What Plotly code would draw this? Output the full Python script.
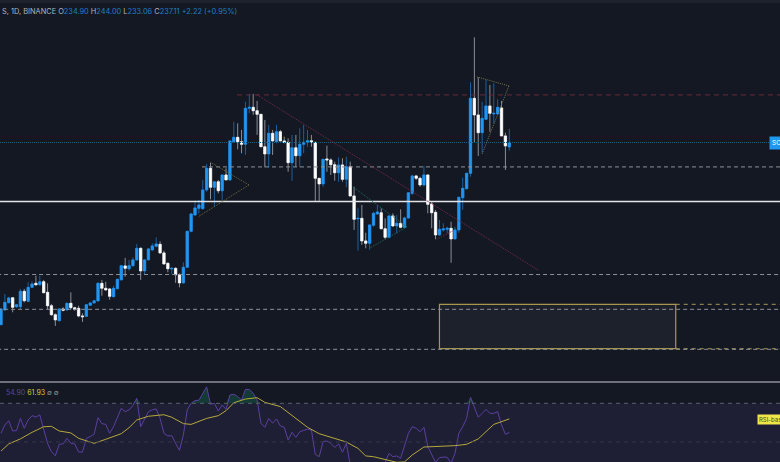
import numpy as np
import plotly.graph_objects as go

opens = [146.0,153.4,157.0,159.5,155.0,155.0,162.7,157.7,164.7,166.7,
166.0,167.5,162.2,155.5,151.0,148.0,153.9,153.4,156.7,154.5,
154.2,150.4,150.2,155.7,156.9,157.9,166.7,164.2,163.9,160.0,
164.0,168.5,175.4,174.0,175.5,178.4,184.2,172.9,178.5,183.4,
185.2,186.2,181.9,176.7,173.9,174.2,171.0,166.9,174.7,192.7,
200.9,204.2,204.0,213.4,224.2,214.7,217.5,213.0,220.9,218.4,
237.5,239.7,237.5,236.2,254.2,254.7,253.0,251.2,235.0,231.4,
241.7,237.5,242.5,237.9,237.2,227.0,234.5,230.5,236.2,237.2,
238.0,237.2,219.2,216.4,228.9,228.4,226.0,222.0,225.9,218.7,
225.0,210.4,198.9,199.2,187.9,186.7,195.7,201.4,202.0,194.0,
189.7,200.4,195.4,196.7,194.7,199.4,211.7,220.4,219.2,215.9,
220.9,206.4,202.2,190.9,193.4,193.7,194.2,188.9,193.4,209.5,
214.0,221.7,259.2,250.9,242.0,248.7,255.4,251.4,251.4,254.4,
240.4,234.90]
closes = [153.9,157.2,159.4,154.7,156.0,162.7,158.0,164.7,166.4,166.0,
167.5,162.0,155.5,151.0,148.4,153.9,153.2,156.7,154.5,153.7,
150.4,150.0,156.0,156.9,158.0,166.7,164.2,163.4,160.2,164.2,
168.7,175.5,174.2,175.5,178.4,184.2,172.9,178.4,183.9,185.4,
186.4,181.9,176.4,174.0,174.2,171.0,166.9,174.7,192.7,201.4,
204.4,205.9,213.4,224.2,214.7,217.5,213.0,220.9,218.4,237.9,
239.7,237.5,236.2,254.2,254.7,253.0,251.2,235.0,231.4,241.7,
237.9,242.5,237.9,237.2,227.0,234.5,230.5,236.2,237.2,238.0,
237.2,219.2,216.4,228.7,228.4,226.0,222.0,225.9,218.7,225.0,
210.4,198.7,199.2,187.9,186.7,195.9,201.7,202.4,194.0,189.7,
200.4,195.4,196.7,194.7,199.4,212.0,220.4,219.2,215.9,220.9,
206.2,202.0,190.9,193.7,193.9,194.2,188.9,193.4,209.7,214.2,
221.7,259.2,250.9,242.0,249.2,255.4,251.7,251.7,254.7,240.4,
235.4,237.11]
highs = [154.4,161.4,160.0,159.5,156.4,163.9,163.9,167.2,167.7,170.5,
170.5,168.4,166.7,156.4,151.7,154.4,154.7,157.0,162.2,155.0,
155.5,151.7,156.4,157.2,158.4,167.2,168.4,167.5,164.2,165.5,
169.0,175.9,179.4,178.4,179.7,186.4,184.7,178.9,184.4,186.7,
189.7,187.7,183.0,177.2,174.7,174.7,171.7,177.2,193.0,202.0,
208.0,208.4,218.4,226.4,227.0,217.5,218.4,220.9,224.2,237.9,
247.5,246.7,243.4,257.5,261.4,261.4,257.9,251.2,248.4,245.9,
243.4,245.9,243.4,240.0,239.2,240.9,240.9,244.2,245.9,243.4,
240.9,237.2,219.2,228.7,235.5,229.2,227.5,229.7,229.2,230.0,
227.5,215.0,204.2,205.9,192.0,195.9,202.5,205.9,204.2,199.2,
200.9,201.7,200.9,203.7,200.0,212.0,220.9,220.9,220.0,225.4,
220.9,207.5,203.4,198.4,196.7,195.0,197.5,195.0,210.0,219.5,
222.0,267.2,289.7,269.7,257.5,268.4,265.9,266.7,258.7,257.9,
242.0,244.00]
lows = [146.0,153.0,156.7,152.2,154.4,153.9,157.2,157.2,164.4,165.5,
165.5,162.0,153.9,150.5,145.4,147.7,152.7,153.0,153.9,153.0,
149.7,147.4,150.0,155.4,156.5,157.7,160.5,163.0,158.5,159.7,
163.9,168.0,170.0,173.0,175.0,178.0,168.4,171.0,178.0,183.0,
184.7,181.4,176.0,172.2,171.4,166.9,164.7,166.7,174.4,192.2,
200.5,201.7,203.7,212.5,208.7,205.4,211.7,208.4,218.4,218.0,
237.0,233.7,231.7,230.9,251.7,250.9,240.9,235.0,224.7,224.7,
230.9,236.7,237.9,236.7,222.5,218.0,225.0,224.7,231.7,235.0,
235.0,207.5,207.5,215.0,222.5,220.9,218.0,217.5,217.5,214.7,
210.0,193.4,183.0,185.9,184.2,183.4,195.0,200.9,193.7,188.7,
189.2,195.0,191.7,194.2,194.2,199.0,210.9,218.4,215.0,215.0,
201.7,194.2,188.7,190.4,192.5,191.7,177.0,188.7,192.0,203.4,
213.7,220.0,237.0,230.4,232.0,248.4,242.5,246.7,250.9,240.4,
223.4,233.06]

rsi = [54.5,58.8,61.0,55.7,55.9,62.2,57.1,61.4,63.6,62.9,64.0,56.2,49.3,45.0,42.9,48.8,49.0,51.9,49.3,49.0,
44.8,44.8,51.9,52.8,54.0,62.6,59.5,59.1,54.5,57.9,62.2,67.4,65.7,66.6,68.8,72.6,57.9,62.2,65.7,66.6,
67.1,62.2,54.5,53.1,53.3,49.3,45.7,53.6,66.6,70.0,71.4,71.6,75.2,78.5,69.5,70.0,66.0,69.1,66.9,74.3,
74.7,73.5,71.7,77.2,77.1,75.2,71.7,59.7,57.6,62.2,59.7,61.9,58.3,57.6,51.0,55.0,52.4,55.3,56.0,56.6,
56.2,43.6,42.4,50.2,50.5,49.3,47.2,49.0,44.7,49.3,38.1,32.9,32.9,29.5,29.5,32.9,37.3,39.0,36.4,39.5,
44.1,42.4,42.8,41.6,47.6,54.5,57.9,57.1,55.3,57.6,47.6,43.3,39.5,41.9,42.2,42.1,39.0,44.1,54.5,57.9,
62.2,73.1,68.3,62.8,64.8,66.9,64.8,64.8,65.7,58.8,54.0,54.9]
rsi_ma_index = [0,2,5,8,11,13,15,18,20,24,27,31,33,35,38,42,44,47,49,53,56,58,60,63,66,68,72,75,79,82,86,89,92,94,96,100,102,104,106,109,113,117,120,123,127,131]
rsi_ma = [45.3,49.0,51.6,55.0,57.9,58.1,55.7,54.7,51.9,49.3,51.4,54.3,57.4,61.4,63.3,64.1,62.8,59.5,59.1,62.2,63.6,66.2,70.3,72.2,72.9,70.5,68.3,63.6,57.6,54.3,51.9,50.0,46.7,42.8,42.4,40.2,39.5,39.7,43.3,47.4,47.6,48.1,48.8,51.6,59.1,61.93]

price_last = 237.11
level_white = 207.6
level_dashed = [(51.8, 224.9), (-1, 171.1), (-1, 153.7), (-1, 133.7)]
level_red = (60.8, 260.9)
trend_red = [(66.0, 260.9), (138.4, 173.4)]
tri_yellow = [(51.0, 200.2), (63.9, 215.9), (54.0, 227.2)]
tri_teal = [(90.7, 214.9), (104.6, 194.9), (95.1, 184.4)]
tri_late = [(122.7, 269.9), (130.9, 265.4), (124.0, 231.4)]
tri_small = [(112.5, 188.9), (116.5, 193.0)]
zone = (113.0, 173.9, 134.0, 156.2)

BG = "#131823"
BLUE = "#2196f3"
n = len(closes)
assert n == len(opens) == len(highs) == len(lows) == len(rsi) == 132
assert len(rsi_ma_index) == len(rsi_ma)
idx = np.arange(n)
o, c = np.array(opens), np.array(closes)
XR = [-0.258, 200.77]
YR = [117.36, 308.36]
RR = [39.66, 80.5]

fig = go.Figure()
# wicks (dimmed) drawn under the bright bodies
fig.add_trace(go.Candlestick(x=idx, open=o, high=highs, low=lows, close=c, whiskerwidth=0,
    increasing=dict(line=dict(color="#1c5f9c", width=1), fillcolor="#1c5f9c"),
    decreasing=dict(line=dict(color="#8b8e94", width=1), fillcolor="#8b8e94"), hoverinfo="skip"))
fig.add_trace(go.Candlestick(x=idx, open=o, high=np.maximum(o, c), low=np.minimum(o, c), close=c, whiskerwidth=0,
    increasing=dict(line=dict(color=BLUE, width=0.5), fillcolor=BLUE),
    decreasing=dict(line=dict(color="#ffffff", width=0.5), fillcolor="#ffffff"), hoverinfo="skip"))

r = np.array(rsi)
fig.add_trace(go.Scatter(x=idx, y=np.full(n, 70.0), yaxis="y2", mode="lines", line=dict(width=0), hoverinfo="skip"))
fig.add_trace(go.Scatter(x=idx, y=np.maximum(r, 70.0), yaxis="y2", mode="lines", line=dict(width=0),
    fill="tonexty", fillcolor="rgba(20,110,80,0.40)", hoverinfo="skip"))
fig.add_trace(go.Scatter(x=idx, y=r, yaxis="y2", mode="lines", line=dict(color="#5b3fa0", width=1), hoverinfo="skip"))
fig.add_trace(go.Scatter(x=rsi_ma_index, y=rsi_ma, yaxis="y2", mode="lines", line=dict(color="#b5a83a", width=1), hoverinfo="skip"))

shapes = []
def line(x0, y0, x1, y1, color, width=1, dash="solid", yref="y"):
    shapes.append(dict(type="line", xref="x", yref=yref, x0=x0, x1=x1, y0=y0, y1=y1,
                       line=dict(color=color, width=width, dash=dash)))
R_ = XR[1] + 1
shapes.append(dict(type="rect", xref="paper", yref="y2", x0=0, x1=1, y0=RR[0], y1=70, fillcolor="#1e1f35",
                   line=dict(width=0), layer="below"))
line(XR[0], 70, R_, 70, "#5c5f6b", 1, "4px,4px", "y2")
line(XR[0], 50, R_, 50, "#34354a", 1, "4px,4px", "y2")
shapes.append(dict(type="rect", xref="x", yref="y", x0=zone[0], x1=zone[1], y0=zone[2], y1=zone[3],
                   fillcolor="rgba(255,255,255,0.045)", line=dict(color="#a8964c", width=1.2)))
line(zone[1], zone[3], R_, zone[3], "#a8964c", 1, "4px,4px")
line(zone[1], zone[2], R_, zone[2], "#a8964c", 1, "4px,4px")
for x0, lv in level_dashed:
    line(x0, lv, R_, lv, "#8f9197", 1, "4px,3px")
line(level_red[0], level_red[1], R_, level_red[1], "#6b2a3a", 1, "5px,4px")
line(XR[0], price_last, 198.8, price_last, "#1a5a85", 1, "1px,1px")
line(XR[0], level_white, R_, level_white, "#e4e4e8", 1.6)
line(*trend_red[0], *trend_red[1], "#7a2b45", 1, "1px,1px")
line(*tri_small[0], *tri_small[1], "#7a2b45", 1, "1px,1px")
for tri, col in ((tri_yellow, "#6f6c3c"), (tri_teal, "#1d6a66"), (tri_late, "#75774a")):
    line(*tri[0], *tri[1], col, 1, "1px,1px")
    line(*tri[1], *tri[2], col, 1, "1px,1px")
# separator and top strip
shapes.append(dict(type="line", xref="paper", yref="paper", x0=0, x1=1, y0=80/462, y1=80/462,
                   line=dict(color="#c9cad2", width=1.2)))
shapes.append(dict(type="rect", xref="paper", yref="paper", x0=0, x1=1, y0=1-3/462, y1=1,
                   fillcolor="#1e222d", line=dict(width=0)))

V = "color:#1f7fc4"
hdr = ("S, 1D, BINANCE O<span style='%s'>234.90</span> H<span style='%s'>244.00</span> "
       "L<span style='%s'>233.06</span> C<span style='%s'>237.11</span> "
       "<span style='%s'>+2.22 (+0.95%%)</span>") % (V, V, V, V, V)
annots = [
    dict(xref="paper", yref="paper", x=0, y=1-11/462, xanchor="left", yanchor="middle", showarrow=False, text=hdr,
         font=dict(family="Inter, Roboto", size=7.4, color="#b2b5be")),
    dict(xref="paper", yref="paper", x=3.5/780, y=1-392/462, xanchor="left", yanchor="middle", showarrow=False,
         text="<span style='color:#5b46a0'>54.90</span> <span style='color:#d8c93c'>61.93</span> <span style='color:#8b8e94'>∅ ∅</span>",
         font=dict(family="Inter, Roboto", size=7)),
    dict(xref="paper", yref="paper", x=769/780, y=1-142.5/462, xanchor="left", yanchor="middle", showarrow=False,
         text="SO", bgcolor=BLUE, borderpad=2, width=9, align="left", font=dict(family="Inter, Roboto", size=6.5, color="#ffffff")),
    dict(xref="paper", yref="paper", x=757/780, y=1-419/462, xanchor="left", yanchor="middle", showarrow=False,
         text="RSI-bas", bgcolor="#f0e64a", borderpad=1, width=21, align="left", font=dict(family="Inter, Roboto", size=6, color="#4a4a20")),
]

fig.update_layout(
    width=780, height=462, margin=dict(l=0, r=0, t=0, b=0), showlegend=False,
    paper_bgcolor=BG, plot_bgcolor=BG, boxgap=0.15, shapes=shapes, annotations=annots,
    xaxis=dict(range=XR, visible=False, rangeslider=dict(visible=False), anchor="y"),
    yaxis=dict(range=YR, visible=False, domain=[80/462, 1]),
    yaxis2=dict(range=RR, visible=False, domain=[0, 79/462], anchor="x"),
)
fig.write_html("out.html", config=dict(displayModeBar=False), post_script="document.body.style.margin='0';")
